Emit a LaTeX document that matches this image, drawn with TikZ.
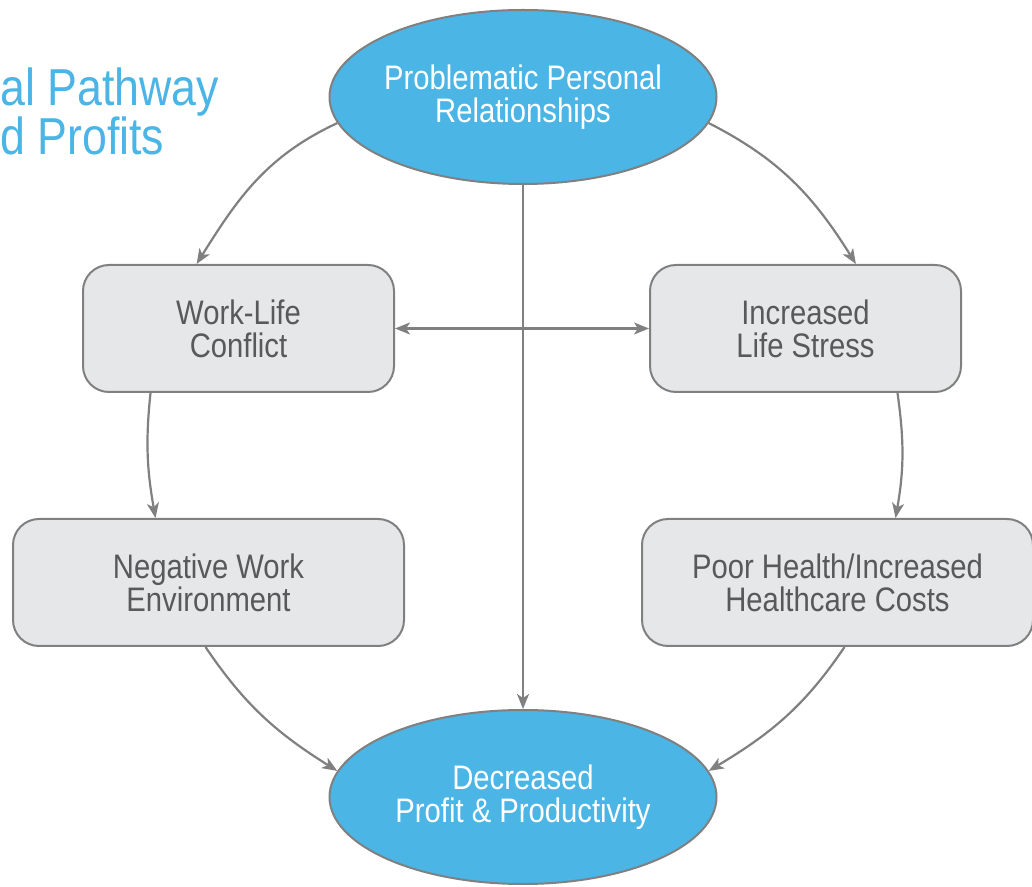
\documentclass[tikz,border=0pt]{standalone}
\usepackage{fontspec}
\setmainfont{Liberation Sans}[FakeStretch=0.86]
\usepackage{xcolor}
\usetikzlibrary{arrows.meta,shapes.geometric}

\definecolor{skyblue}{HTML}{4BB5E6}
\definecolor{boxgray}{HTML}{E6E7E8}
\definecolor{linegray}{HTML}{808080}
\definecolor{textgray}{HTML}{58595B}

\begin{document}
\begin{tikzpicture}[x=1pt, y=1pt, >={Stealth[length=15pt,width=12pt,inset=4pt]},
  oval/.style={ellipse, draw=linegray, line width=2pt, fill=skyblue, minimum width=387pt, minimum height=174pt},
  ovaltext/.style={text=white, align=center, inner sep=0pt, font=\fontsize{34}{33}\selectfont},
  box/.style={rectangle, rounded corners=26pt, draw=linegray, line width=2pt, fill=boxgray, text=textgray,
    minimum width=311pt, minimum height=127pt, align=center, font=\fontsize{34}{33}\selectfont},
  widebox/.style={box, minimum width=391pt},
  titletext/.style={anchor=base west, inner sep=0pt, text=skyblue, align=left, font=\fontsize{52}{45}\selectfont},
  link/.style={draw=linegray, line width=2.2pt, ->}]
  \useasboundingbox (0,0) rectangle (1032,886);

  % title, runs off the left edge
  \node[titletext] (title) at (0,731) {al Pathway\\d Profits};

  % cause and effect
  \node[oval] (prob) at (523,789) {};
  \node[ovaltext] at (prob) {Problematic Personal\\Relationships};
  \node[oval] (profit) at (523,89) {};
  \node[ovaltext] at (profit) {Decreased\\Profit \& Productivity};

  % the steps between
  \node[box] (wlc) at (238.5,557.5) {Work-Life\\Conflict};
  \node[box] (stress) at (805.5,557.5) {Increased\\Life Stress};
  \node[widebox] (negwork) at (208.5,303.5) {Negative Work\\Environment};
  \node[widebox] (health) at (837.5,303.5) {Poor Health/Increased\\Healthcare Costs};

  \draw[link] (prob.188) to[out=205,in=58] (wlc.123);
  \draw[link] (prob.-8) to[out=-27,in=122] (stress.52);
  \draw[link] (prob.south) -- (profit.north);
  \draw[link, <->] (wlc.east) -- (stress.west);
  \draw[link] ([xshift=-88pt]wlc.south) to[out=-96,in=100] ([xshift=-53pt]negwork.north);
  \draw[link] ([xshift=92pt]stress.south) to[out=-82,in=80] ([xshift=58pt]health.north);
  \draw[link] ([xshift=-3pt]negwork.south) to[out=-56,in=148] (profit.172);
  \draw[link] ([xshift=7pt]health.south) to[out=-124,in=31] (profit.8);
\end{tikzpicture}
\end{document}
